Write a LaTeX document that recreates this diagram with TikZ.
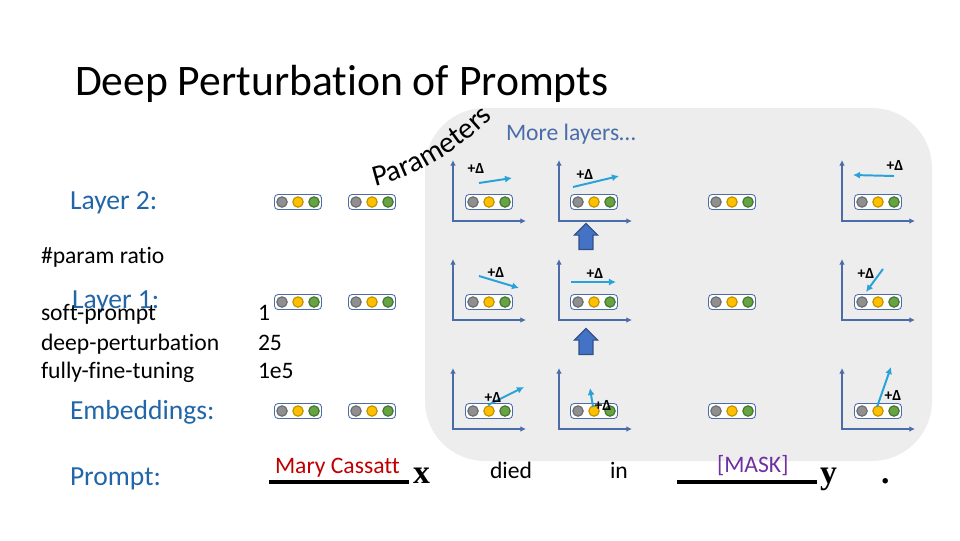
\documentclass[tikz,border=0pt]{standalone}
\usepackage{fontspec}
\setmainfont{Carlito}[Ligatures=NoCommon]
\newfontfamily\serifbold{Liberation Serif}
\usetikzlibrary{arrows.meta,positioning,shapes.arrows,decorations.text,calc}
\definecolor{bggrey}{HTML}{EDEDED}
\definecolor{layerblue}{HTML}{2166A8}
\definecolor{slate}{HTML}{4A6DAA}
\definecolor{deltacyan}{HTML}{27A3DA}
\definecolor{tokgrey}{HTML}{8F8F8F}
\definecolor{tokyellow}{HTML}{FFC000}
\definecolor{tokgreen}{HTML}{66A443}
\definecolor{maryred}{HTML}{C00000}
\definecolor{maskpurple}{HTML}{7030A0}
\definecolor{blockblue}{HTML}{4472C4}

\begin{document}
\begin{tikzpicture}[
  x=0.025cm, y=-0.025cm,
  every node/.style={inner sep=0pt, outer sep=0pt},
  lbl/.style={anchor=base west, font=\fontsize{19.6}{21}\selectfont, text=layerblue},
  txt/.style={anchor=base west, font=\fontsize{16.8}{18}\selectfont},
  tokbox/.style={draw=slate, fill=white, rounded corners=2.5pt, minimum width=1.175cm, minimum height=0.375cm, line width=0.6pt},
  dot/.style={circle, minimum size=0.26cm, line width=0.8pt},
  axis/.style={draw=slate, line width=1.4pt, {Latex[length=4pt,width=4pt]}-{Latex[length=4pt,width=4pt]}},
  delta/.style={draw=deltacyan, line width=1.4pt, -{Latex[length=5pt,width=5pt]}},
  dlab/.style={font=\fontsize{11}{11}\selectfont\bfseries},
  upblock/.style={single arrow, draw=blockblue!70!black, fill=blockblue, rotate=90, line width=0.8pt,
    minimum height=0.65cm, minimum width=0.55cm, inner sep=0.16cm, single arrow head extend=0.115cm},
  vartext/.style={anchor=base west, font=\fontsize{24}{24}\selectfont\serifbold\bfseries},
]
  \useasboundingbox (0,0) rectangle (960,540);

  % grey panel
  \fill[bggrey, rounded corners=1.5cm] (425,108) rectangle (932,461);

  % Title
  \node[anchor=base west, font=\fontsize{31}{36}\selectfont] (title) at (75,95) {Deep Perturbation of Prompts};

  % curved label
  \path[decorate, decoration={text along path, text align=left,
    text={|\fontsize{21}{21}\selectfont|Parameters}}]
    (375,186) .. controls (412,178) and (462,150) .. (496,114);
  \node[txt, text=slate] (more) at (506,140) {More layers\dots};

  % row labels
  \node[lbl] (l2) at (70,209) {Layer 2:};
  \node[lbl] (l1) at (72,308) {Layer 1:};
  \node[lbl] (emb) at (70,419) {Embeddings:};
  \node[lbl] (prompt) at (70,485) {Prompt:};

  % ratio table
  \node[txt] (ratio) at (41,263) {\#param ratio};
  \node[txt] (soft) at (41,320) {soft-prompt};
  \node[txt] (deep) at (41,350) {deep-perturbation};
  \node[txt] (full) at (41,378) {fully-fine-tuning};
  \node[txt] (soft-n) at (258,320) {1};
  \node[txt] (deep-n) at (258,350) {25};
  \node[txt] (full-n) at (258,378) {1e5};

  % axes
  \foreach \ox in {453,559,842}
    \foreach \oy in {221,320,429}
      \draw[axis] (\ox,\oy-61) |- (\ox+73,\oy);

  % token boxes
  \foreach \r/\y in {2/202,1/302,0/411}
    \foreach \c/\x in {a/298,b/372,c/489,d/594,e/732,f/878} {
      \node[tokbox] (tk\r\c) at (\x,\y) {};
      \node[dot, draw=tokgrey!75!black, fill=tokgrey] (tk\r\c-1) at (\x-16,\y) {};
      \node[dot, draw=tokyellow!75!black, fill=tokyellow] (tk\r\c-2) at (\x,\y) {};
      \node[dot, draw=tokgreen!70!black, fill=tokgreen] (tk\r\c-3) at (\x+16,\y) {};
    }

  % perturbations
  \draw[delta] (479,183) -- (512,178);
  \node[dlab] (d2c) at (476,168) {+Δ};
  \draw[delta] (573,187) -- (619,176);
  \node[dlab] (d2d) at (585,174) {+Δ};
  \draw[delta] (894,176) -- (853,175);
  \node[dlab] (d2f) at (895,165) {+Δ};
  \draw[delta] (479,276) -- (519,288);
  \node[dlab] (d1c) at (496,272) {+Δ};
  \draw[delta] (571,282) -- (616,282);
  \node[dlab] (d1d) at (595,273) {+Δ};
  \draw[delta] (883,269) -- (866,292);
  \node[dlab] (d1f) at (866,273) {+Δ};
  \draw[delta] (488,405) -- (524,387);
  \node[dlab] (d0c) at (493,397) {+Δ};
  \draw[delta] (593,407) -- (590,388);
  \node[dlab] (d0d) at (603,405) {+Δ};
  \draw[delta] (877,407) -- (891,367);
  \node[dlab] (d0f) at (893,395) {+Δ};

  % block arrows
  \node[upblock] (up1) at (586,240) {};
  \node[upblock] (up2) at (586,345) {};

  % prompt row
  \coordinate (u1a) at (269,482);
  \coordinate (u1b) at (409,482);
  \draw[line width=2.2pt] (u1a) -- (u1b);
  \node[txt, text=maryred] (mary) at (275,473) {Mary Cassatt};
  \node[vartext] (xvar) at (413,483) {x};
  \node[txt] (died) at (490,478) {died};
  \node[txt] (in) at (610,478) {in};
  \coordinate (u2a) at (677,482);
  \coordinate (u2b) at (817,482);
  \draw[line width=2.2pt] (u2a) -- (u2b);
  \node[txt, text=maskpurple] (mask) at (717,472) {[MASK]};
  \node[vartext] (yvar) at (820,483) {y};
  \node[vartext] (stop) at (881,483) {.};
\end{tikzpicture}
\end{document}
